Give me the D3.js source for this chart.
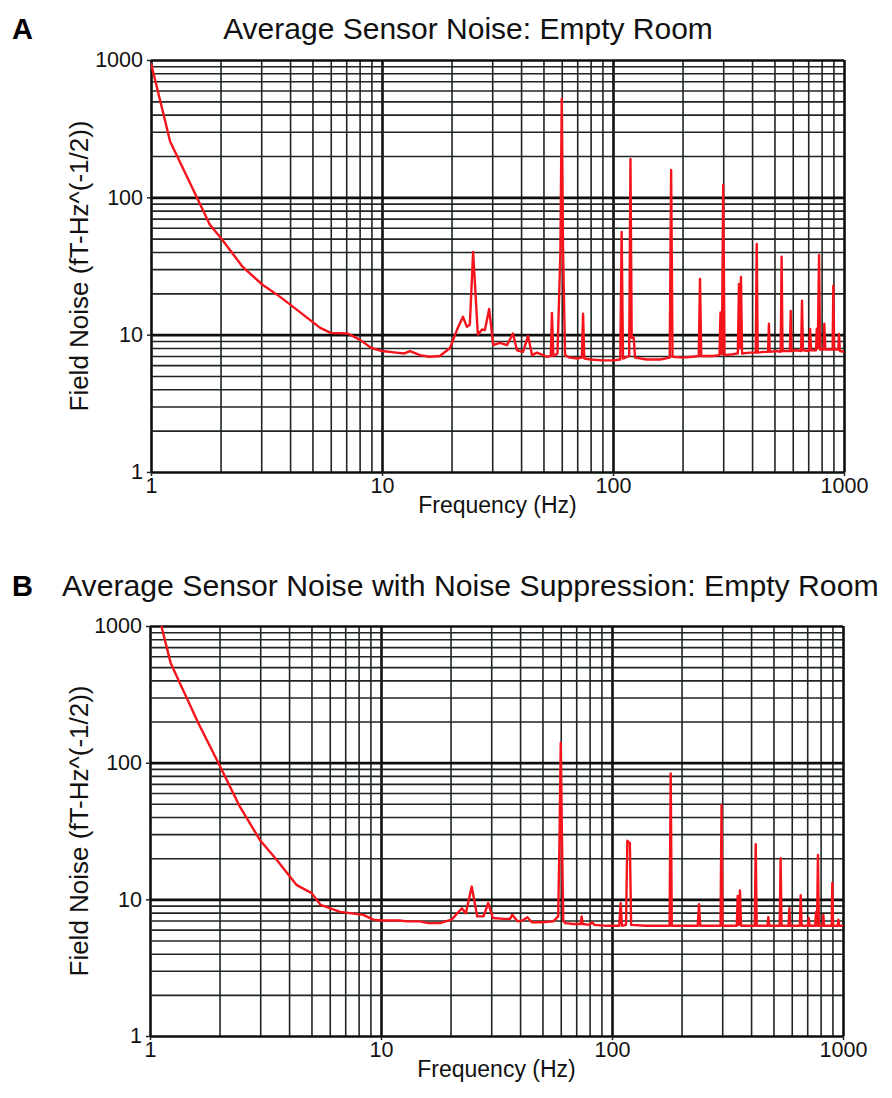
<!DOCTYPE html>
<html>
<head>
<meta charset="utf-8">
<script src="https://cdn.jsdelivr.net/npm/d3@7.9.0/dist/d3.min.js"></script>
<style>
  body { margin: 0; background: #fff; }
  svg { display: block; font-family: "Liberation Sans", Arial, sans-serif; }
  .grid line { stroke: #1f2621; stroke-width: 1.6; }
  .grid line.major { stroke: #0d0f0d; stroke-width: 2.6; }
  .grid path, .axis path { display: none; }
  .axis line { stroke: #222; stroke-width: 1.5; }
  .axis text { font-size: 21.5px; fill: #111; }
</style>
</head>
<body>
<svg width="892" height="1098"></svg>
<script>
// tick labels shared by both panels
const freqTicks = [1, 10, 100, 1000];
const noiseTicks = [1, 10, 100, 1000];

// panel A: frequency (Hz), field noise (fT/sqrt(Hz))
const noiseA = [
  [1.0, 950], [1.21, 255], [1.5, 120], [1.8, 63], [2.0, 51], [2.5, 31], [3.05, 23],
  [3.6, 19], [4.3, 15.1], [5.4, 11.2], [6.0, 10.3], [7.1, 10.2], [8.0, 9.2], [9.0, 8.0],
  [10, 7.6], [11.5, 7.4], [12.5, 7.3], [13.2, 7.6], [14, 7.3], [14.6, 7.1], [16, 6.9],
  [17.8, 7.0], [19.7, 8.0], [21.1, 10.8], [22.4, 13.5], [23.3, 11.4], [24, 11.8],
  [24.8, 40], [26, 10], [27.1, 10.9], [27.9, 10.8], [29.1, 15.4], [30.3, 8.4],
  [32.4, 8.7], [34.8, 8.4], [36.9, 10.2], [38.4, 7.7], [40.8, 7.5], [42.9, 9.8],
  [44.6, 7.1], [46.9, 7.4], [51.8, 6.9], [53.8, 7.0], [54.4, 14.4], [55.2, 7.0],
  [57.5, 7.3], [59.2, 40], [60, 520], [60.8, 40], [62, 7.1], [65, 6.8], [70, 6.7],
  [73.3, 6.8], [74.2, 14.2], [75.1, 6.7], [80, 6.6], [90, 6.5], [100, 6.5],
  [107.5, 6.6], [109, 56], [110.5, 6.7], [117.5, 7], [119, 190], [120.5, 9.5],
  [123, 9.5], [124.5, 6.8], [140, 6.6], [160, 6.6], [176, 6.8], [178.5, 158],
  [181, 6.9], [200, 6.8], [220, 6.9], [235, 7.0], [238, 25.5], [241, 7.0], [270, 7.0],
  [289, 7.1], [292, 14.5], [296, 7.2], [300, 123], [304, 7.1], [330, 7.2], [347, 7.3],
  [351, 23.4], [355, 8], [358, 26.3], [362, 7.3], [390, 7.4], [415, 7.4], [419, 45.8],
  [423, 7.4], [450, 7.5], [469, 7.5], [473, 12], [477, 7.5], [510, 7.6], [532, 7.5],
  [537, 37], [542, 7.6], [583, 7.6], [588, 14.9], [593, 7.6], [620, 7.7], [652, 7.6],
  [658, 17.7], [664, 7.7], [706, 7.6], [713, 11], [720, 7.7], [757, 7.7], [762, 11],
  [770, 8], [780, 38], [788, 7.8], [817, 7.8], [822, 12], [830, 7.8], [893, 7.8],
  [899, 22.7], [907, 7.8], [945, 7.8], [951, 10.1], [960, 7.6], [1000, 7.5]
];

// panel B: same sensors with noise suppression
const noiseB = [
  [1.12, 1000], [1.23, 533], [1.39, 340], [1.62, 194], [1.98, 99], [2.45, 47.6],
  [2.99, 27.2], [3.54, 19.4], [4.32, 12.7], [5.01, 11.1], [5.48, 9.1], [6.65, 8.1],
  [8.38, 7.7], [9.26, 7.1], [10, 7.0], [12, 7.0], [13, 6.9], [14.7, 6.9], [16, 6.7],
  [18, 6.7], [20.2, 7.1], [22.4, 8.6], [23.3, 7.9], [24.7, 12.4], [26.1, 7.5],
  [27.8, 7.5], [29.1, 9.4], [30.5, 7.3], [34, 7.2], [36.2, 7.2], [37, 7.7], [39, 6.9],
  [41, 7.0], [43, 7.4], [45, 6.8], [50, 6.8], [55.7, 6.9], [58.5, 7.5], [59.3, 30],
  [60, 140], [60.7, 30], [61.5, 7], [62.6, 6.7], [68, 6.6], [73.2, 6.6], [73.9, 7.5],
  [74.6, 6.6], [80, 6.5], [82, 6.8], [84, 6.5], [95, 6.4], [107.5, 6.4], [109, 9.4],
  [110.5, 6.4], [115, 6.5], [116.5, 26.8], [119.5, 25.8], [121, 6.5], [140, 6.4],
  [160, 6.4], [177.5, 6.4], [179.5, 83.5], [181.5, 6.4], [210, 6.4], [235, 6.4],
  [238, 9.2], [241, 6.4], [270, 6.4], [295, 6.4], [298, 49], [301, 6.4], [330, 6.4],
  [347, 6.4], [350, 10.6], [354, 6.5], [358, 11.6], [362, 6.4], [390, 6.4], [415, 6.4],
  [419, 25.3], [423, 6.4], [450, 6.4], [471, 6.4], [475, 7.4], [479, 6.4], [510, 6.4],
  [532, 6.4], [537, 20], [542, 6.4], [581, 6.4], [586, 8.6], [591, 6.4], [620, 6.4],
  [650, 6.4], [656, 10.7], [662, 6.4], [705, 6.4], [711, 7.3], [717, 6.4], [758, 6.4],
  [764, 8.1], [772, 6.4], [779, 21.1], [786, 6.4], [816, 6.4], [822, 7.7], [828, 6.4],
  [893, 6.4], [899, 13.2], [906, 6.4], [949, 6.4], [955, 7.1], [962, 6.4], [1000, 6.4]
];

const svg = d3.select('svg');

// every 1..9 x 10^k line for the log paper grid
function logLines(lo, hi) {
  let out = [];
  for (let p = lo; p < hi; p++) {
    for (let m = 1; m <= 9; m++) out.push(m * Math.pow(10, p));
  }
  out.push(Math.pow(10, hi));
  return out;
}
const isMajor = (v) => Math.abs(Math.log10(v) - Math.round(Math.log10(v))) < 1e-9;

function drawPanel(data, box, id) {
  let x = d3.scaleLog().domain([1, 1000]).range([box.left, box.right]);
  let y = d3.scaleLog().domain([1, 1000]).range([box.bottom, box.top]);
  let w = box.right - box.left;
  let h = box.bottom - box.top;

  // vertical grid
  svg.append('g')
    .attr('class', 'grid')
    .attr('transform', `translate(0,${box.bottom})`)
    .call(d3.axisBottom(x).tickValues(logLines(0, 3)).tickSize(-h).tickFormat(''))
    .selectAll('line')
    .attr('class', (d) => isMajor(d) ? 'major' : null);

  // horizontal grid
  svg.append('g')
    .attr('class', 'grid')
    .attr('transform', `translate(${box.left},0)`)
    .call(d3.axisLeft(y).tickValues(logLines(0, 3)).tickSize(-w).tickFormat(''))
    .selectAll('line')
    .attr('class', (d) => isMajor(d) ? 'major' : null);

  svg.append('g')
    .attr('class', 'axis')
    .attr('transform', `translate(0,${box.bottom})`)
    .call(d3.axisBottom(x).tickValues(freqTicks).tickSize(4).tickPadding(2).tickFormat(d3.format('d')));

  svg.append('g')
    .attr('class', 'axis')
    .attr('transform', `translate(${box.left},0)`)
    .call(d3.axisLeft(y).tickValues(noiseTicks).tickSize(4).tickPadding(4).tickFormat(d3.format('d')));

  svg.append('clipPath').attr('id', 'clip' + id)
    .append('rect')
    .attr('x', box.left).attr('y', box.top - 1)
    .attr('width', w).attr('height', h + 1);

  let line = d3.line().x((d) => x(d[0])).y((d) => y(d[1]));

  svg.append('path')
    .datum(data)
    .attr('clip-path', `url(#clip${id})`)
    .attr('d', line)
    .attr('fill', 'none')
    .attr('stroke', '#f5141c')
    .attr('stroke-width', 2.4)
    .attr('stroke-linejoin', 'round');

  // axis titles
  svg.append('text')
    .attr('x', (box.left + box.right) / 2)
    .attr('y', box.bottom + 41)
    .attr('text-anchor', 'middle')
    .attr('font-size', 23)
    .attr('fill', '#111')
    .text('Frequency (Hz)');

  svg.append('text')
    .attr('transform', `translate(88,${(box.top + box.bottom) / 2}) rotate(-90)`)
    .attr('text-anchor', 'middle')
    .attr('font-size', 26)
    .attr('fill', '#111')
    .text('Field Noise (fT-Hz^(-1/2))');
}

drawPanel(noiseA, { left: 151, right: 844, top: 60, bottom: 472 }, 'A');
drawPanel(noiseB, { left: 150, right: 843, top: 626, bottom: 1036 }, 'B');

// panel letters and titles
svg.append('text').attr('x', 12).attr('y', 39)
  .attr('font-size', 29).attr('font-weight', 'bold').text('A');
svg.append('text').attr('x', 468).attr('y', 39)
  .attr('font-size', 30).attr('text-anchor', 'middle').attr('fill', '#111')
  .text('Average Sensor Noise: Empty Room');

svg.append('text').attr('x', 12).attr('y', 596)
  .attr('font-size', 29).attr('font-weight', 'bold').text('B');
svg.append('text').attr('x', 62).attr('y', 596)
  .attr('font-size', 30.2).attr('fill', '#111')
  .text('Average Sensor Noise with Noise Suppression: Empty Room');
</script>
</body>
</html>
